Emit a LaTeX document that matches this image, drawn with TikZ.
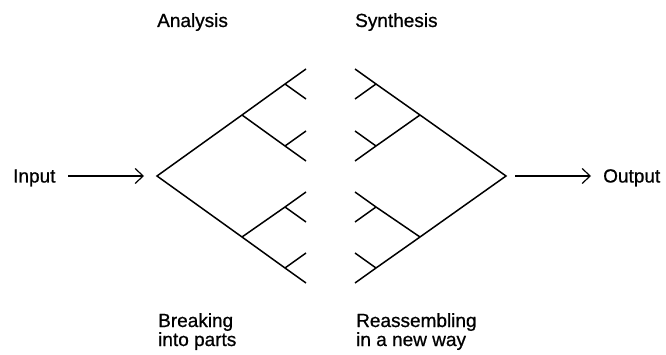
\documentclass[tikz,border=0pt]{standalone}
\usepackage{fontspec}
\setmainfont{Liberation Sans}
\newfontfamily\lblfont[FakeBold=0.8]{Liberation Sans}
\usetikzlibrary{arrows.meta}
\begin{document}
\begin{tikzpicture}[x=1pt,y=-1pt,
  tree/.style={line width=1.5pt,line join=miter},
  arr/.style={line width=1.2pt,-{Straight Barb[length=8pt,width=15pt,line width=1.2pt]}},
  lbl/.style={font=\lblfont\fontsize{19}{19}\selectfont,inner sep=0pt,anchor=base west}]
\useasboundingbox (0,0) rectangle (666,355);
% left tree (analysis)
\coordinate (L0) at (157,176);
\coordinate (LA) at (242,115);
\coordinate (LB) at (242,237);
\coordinate (LA1) at (285,84);
\coordinate (LA2) at (285,146);
\coordinate (LB1) at (285,207);
\coordinate (LB2) at (285,268);
\coordinate (LA1a) at (306,69);
\coordinate (LA1b) at (306,99);
\coordinate (LA2a) at (306,131);
\coordinate (LA2b) at (306,161);
\coordinate (LB1a) at (306,192);
\coordinate (LB1b) at (306,222);
\coordinate (LB2a) at (306,253);
\coordinate (LB2b) at (306,283);
\draw[tree] (LA1a) -- (LA1) -- (LA) -- (L0) -- (LB) -- (LB2) -- (LB2b);
\draw[tree] (LA1) -- (LA1b);
\draw[tree] (LA) -- (LA2) -- (LA2b);
\draw[tree] (LA2) -- (LA2a);
\draw[tree] (LB) -- (LB1) -- (LB1a);
\draw[tree] (LB1) -- (LB1b);
\draw[tree] (LB2) -- (LB2a);
% right tree (synthesis)
\coordinate (R0) at (506,176);
\coordinate (RA) at (420,115);
\coordinate (RB) at (420,237);
\coordinate (RA1) at (376,84);
\coordinate (RA2) at (376,146);
\coordinate (RB1) at (376,207);
\coordinate (RB2) at (376,268);
\coordinate (RA1a) at (355,69);
\coordinate (RA1b) at (355,99);
\coordinate (RA2a) at (355,131);
\coordinate (RA2b) at (355,161);
\coordinate (RB1a) at (355,192);
\coordinate (RB1b) at (355,222);
\coordinate (RB2a) at (355,253);
\coordinate (RB2b) at (355,283);
\draw[tree] (RA1a) -- (RA1) -- (RA) -- (R0) -- (RB) -- (RB2) -- (RB2b);
\draw[tree] (RA1) -- (RA1b);
\draw[tree] (RA) -- (RA2) -- (RA2b);
\draw[tree] (RA2) -- (RA2a);
\draw[tree] (RB) -- (RB1) -- (RB1a);
\draw[tree] (RB1) -- (RB1b);
\draw[tree] (RB2) -- (RB2a);
% labels
\node[lbl] (analysis) at (157,27) {Analysis};
\node[lbl] (synthesis) at (355,27) {Synthesis};
\node[lbl] (break1) at (158,327) {Breaking};
\node[lbl] (break2) at (158,346) {into parts};
\node[lbl] (reass1) at (356,327) {Reassembling};
\node[lbl] (reass2) at (356,346) {in a new way};
\node[lbl] (input) at (13,182.5) {Input};
\node[lbl] (output) at (603,182.5) {Output};
% arrows
\coordinate (inS) at (68,176);
\coordinate (inE) at (144,176);
\coordinate (outS) at (515,176);
\coordinate (outE) at (591,176);
\draw[arr] (inS) -- (inE);
\draw[arr] (outS) -- (outE);
\end{tikzpicture}
\end{document}
